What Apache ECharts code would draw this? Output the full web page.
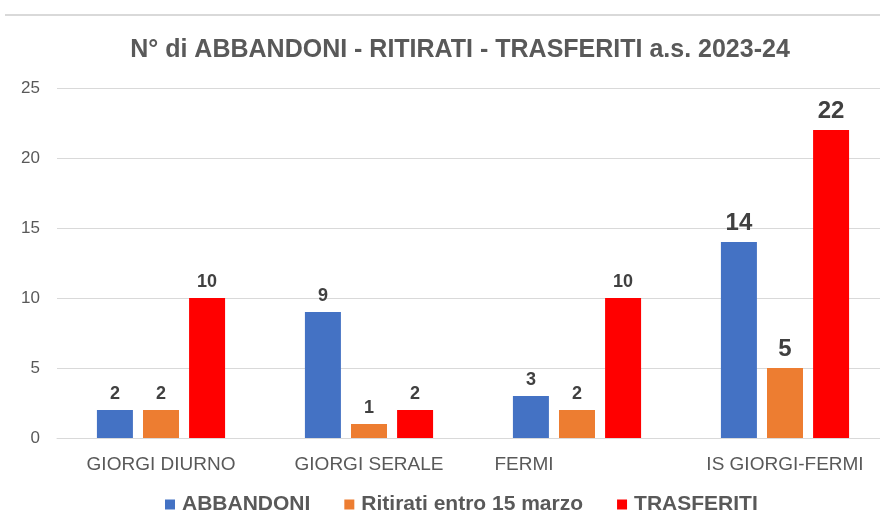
<!DOCTYPE html>
<html><head><meta charset="utf-8">
<script src="https://cdn.jsdelivr.net/npm/echarts@6/dist/echarts.min.js"></script>
<style>html,body{margin:0;padding:0;background:#fff}#c{width:880px;height:512px}</style>
</head><body><div id="c"></div>
<script>
const categories = ['GIORGI DIURNO', 'GIORGI SERALE', 'FERMI', 'IS GIORGI-FERMI'];
const abbandoni = [2, 9, 3, 14];
const ritirati = [2, 1, 2, 5];
const trasferiti = [10, 2, 10, 22];
const seriesNames = ['ABBANDONI', 'Ritirati entro 15 marzo', 'TRASFERITI'];
const colors = ['#4472C4', '#ED7D31', '#FF0000'];
const yTicks = [0, 5, 10, 15, 20, 25];

const chart = echarts.init(document.getElementById('c'), null, {renderer: 'canvas'});
const font = 'Liberation Sans, Arial, sans-serif';
function mk(vals) {
  return vals.map((v, i) => ({value: v, label: {fontSize: i === 3 ? 24 : 18}}));
}
const catData = categories.map(c => c === 'FERMI'
  ? {value: c, textStyle: {padding: [0, 106, 0, 0]}} : c);
const series = [abbandoni, ritirati, trasferiti].map((vals, k) => ({
  name: seriesNames[k], type: 'bar', data: mk(vals),
  barWidth: 36, barGap: '28%',
  itemStyle: {color: colors[k]},
  label: {show: true, position: 'top', distance: 7, fontWeight: 'bold', color: '#404040', fontFamily: font}
}));
chart.setOption({
  animation: false,
  backgroundColor: '#fff',
  title: {
    text: 'N° di ABBANDONI - RITIRATI - TRASFERITI a.s. 2023-24',
    left: 455, top: 33, textAlign: 'center',
    textStyle: {fontFamily: font, fontSize: 25, fontWeight: 'bold', color: '#595959'}
  },
  graphic: [{type: 'rect', shape: {x: 5, y: 14, width: 880, height: 2}, style: {fill: '#d9d9d9'}, silent: true}],
  legend: {
    left: 165, top: 494, padding: 0, itemWidth: 10, itemHeight: 10, itemGap: 34, icon: 'rect',
    textStyle: {fontFamily: font, fontSize: 21, fontWeight: 'bold', color: '#595959', padding: [0, 0, 0, 2]},
    data: seriesNames
  },
  grid: {left: 57, top: 88, width: 832, height: 350, containLabel: false, outerBoundsMode: 'none'},
  xAxis: {
    type: 'category', data: catData,
    axisLine: {lineStyle: {color: '#d9d9d9', width: 1}},
    axisTick: {show: false},
    axisLabel: {fontFamily: font, fontSize: 19, color: '#595959', margin: 17}
  },
  yAxis: {
    type: 'value', min: yTicks[0], max: yTicks[yTicks.length - 1], interval: 5,
    axisLine: {show: false}, axisTick: {show: false},
    axisLabel: {fontFamily: font, fontSize: 17, color: '#595959', margin: 17},
    splitLine: {lineStyle: {color: '#d9d9d9', width: 1}}
  },
  series: series
});
</script></body></html>
